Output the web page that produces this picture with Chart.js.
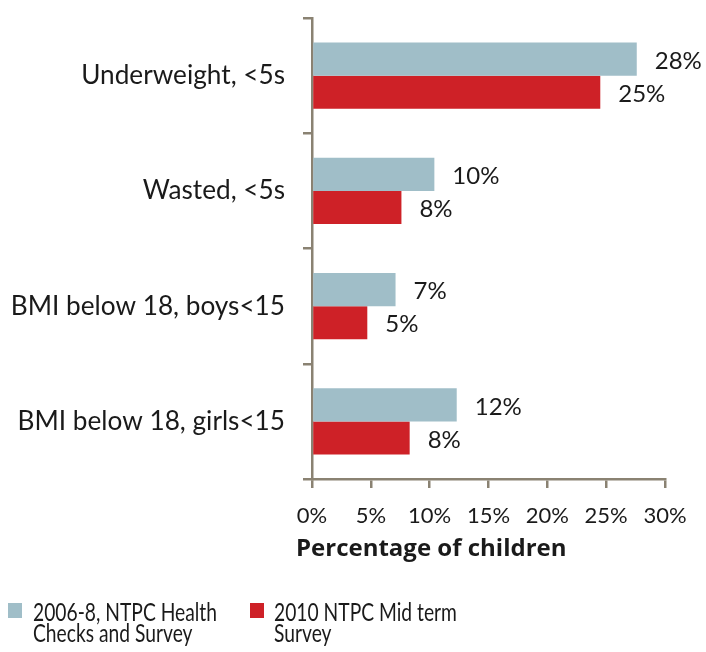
<!DOCTYPE html>
<html>
<head>
<meta charset="utf-8">
<script src="https://cdn.jsdelivr.net/npm/chart.js@4/dist/chart.umd.min.js"></script>
<style>
  html,body{margin:0;padding:0;background:#fff;}
  #wrap{position:relative;width:706px;height:652px;overflow:hidden;}
  canvas{position:absolute;left:0;top:0;}
  .leg{position:absolute;font-family:Lato,"Open Sans",sans-serif;font-size:25px;line-height:21px;color:#1a1a1a;white-space:nowrap;transform:scaleX(0.77);transform-origin:0 0;}
  .sw{position:absolute;width:14px;height:15px;}
</style>
</head>
<body>
<div id="wrap">
  <canvas id="c" width="706" height="652"></canvas>
  <div class="sw" id="sw1" style="left:8px;top:603px;"></div>
  <div class="leg" id="lg1" style="left:33px;top:601px;"></div>
  <div class="sw" id="sw2" style="left:250px;top:603px;"></div>
  <div class="leg" id="lg2" style="left:274px;top:601px;"></div>
</div>
<script>
const categories = ['Underweight, <5s', 'Wasted, <5s', 'BMI below 18, boys<15', 'BMI below 18, girls<15'];
const seriesNames = [['2006-8, NTPC Health', 'Checks and Survey'], ['2010 NTPC Mid term', 'Survey']];
const values2006 = [27.6, 10.4, 7.1, 12.3];
const values2010 = [24.5, 7.6, 4.7, 8.3];
const xTicks = [0, 5, 10, 15, 20, 25, 30];
const xTitle = 'Percentage of children';

const colors = ['#a0bec8', '#ce2127'];
const textColor = '#1a1a1a';
const axisColor = '#8a8272';
const fontFamily = 'Lato, "Open Sans", sans-serif';

document.getElementById('sw1').style.background = colors[0];
document.getElementById('sw2').style.background = colors[1];
document.getElementById('lg1').innerHTML = seriesNames[0].join('<br>');
document.getElementById('lg2').innerHTML = seriesNames[1].join('<br>');

const valueLabels = {
  id: 'valueLabels',
  afterDatasetsDraw(chart) {
    const ctx = chart.ctx;
    ctx.save();
    ctx.font = '24px ' + fontFamily;
    ctx.fillStyle = textColor;
    ctx.textAlign = 'left';
    ctx.textBaseline = 'middle';
    chart.data.datasets.forEach((ds, di) => {
      chart.getDatasetMeta(di).data.forEach((bar, i) => {
        ctx.fillText(Math.round(ds.data[i]) + '%', bar.x + 18, bar.y + 2);
      });
    });
    ctx.restore();
  }
};

const axisTitle = {
  id: 'axisTitle',
  afterDraw(chart) {
    const ctx = chart.ctx;
    ctx.save();
    ctx.font = 'bold 24px "Open Sans", Lato, sans-serif';
    ctx.fillStyle = textColor;
    ctx.textAlign = 'left';
    ctx.textBaseline = 'alphabetic';
    ctx.fillText(xTitle, chart.chartArea.left - 16, 556);
    ctx.restore();
  }
};

new Chart(document.getElementById('c'), {
  type: 'bar',
  data: {
    labels: categories,
    datasets: [
      { label: seriesNames[0].join(' '), data: values2006, backgroundColor: colors[0] },
      { label: seriesNames[1].join(' '), data: values2010, backgroundColor: colors[1] }
    ]
  },
  options: {
    indexAxis: 'y',
    responsive: false,
    animation: false,
    devicePixelRatio: 1,
    layout: { padding: { top: 18, right: 41, left: 0, bottom: 0 } },
    categoryPercentage: 0.574,
    barPercentage: 1,
    plugins: { legend: { display: false }, tooltip: { enabled: false } },
    scales: {
      x: {
        min: 0, max: 30,
        afterBuildTicks(s) { s.ticks = xTicks.map(v => ({ value: v })); },
        afterFit(s) { s.height = 173; s.paddingLeft = 0; s.paddingRight = 0; },
        ticks: {
          color: textColor, padding: 15,
          font: { family: fontFamily, size: 22 },
          callback: v => v + '%'
        },
        grid: { drawOnChartArea: false, drawTicks: true, tickLength: 9, color: axisColor, lineWidth: 2.5 },
        border: { color: axisColor, width: 2.5 }
      },
      y: {
        afterFit(s) { s.width = 312; s.paddingTop = 0; s.paddingBottom = 0; },
        ticks: { color: textColor, padding: 18, font: { family: fontFamily, size: 26.2 } },
        grid: { offset: true, drawOnChartArea: false, drawTicks: true, tickLength: 9, color: axisColor, lineWidth: 2.5 },
        border: { color: axisColor, width: 2.5 }
      }
    }
  },
  plugins: [valueLabels, axisTitle]
});
</script>
</body>
</html>
